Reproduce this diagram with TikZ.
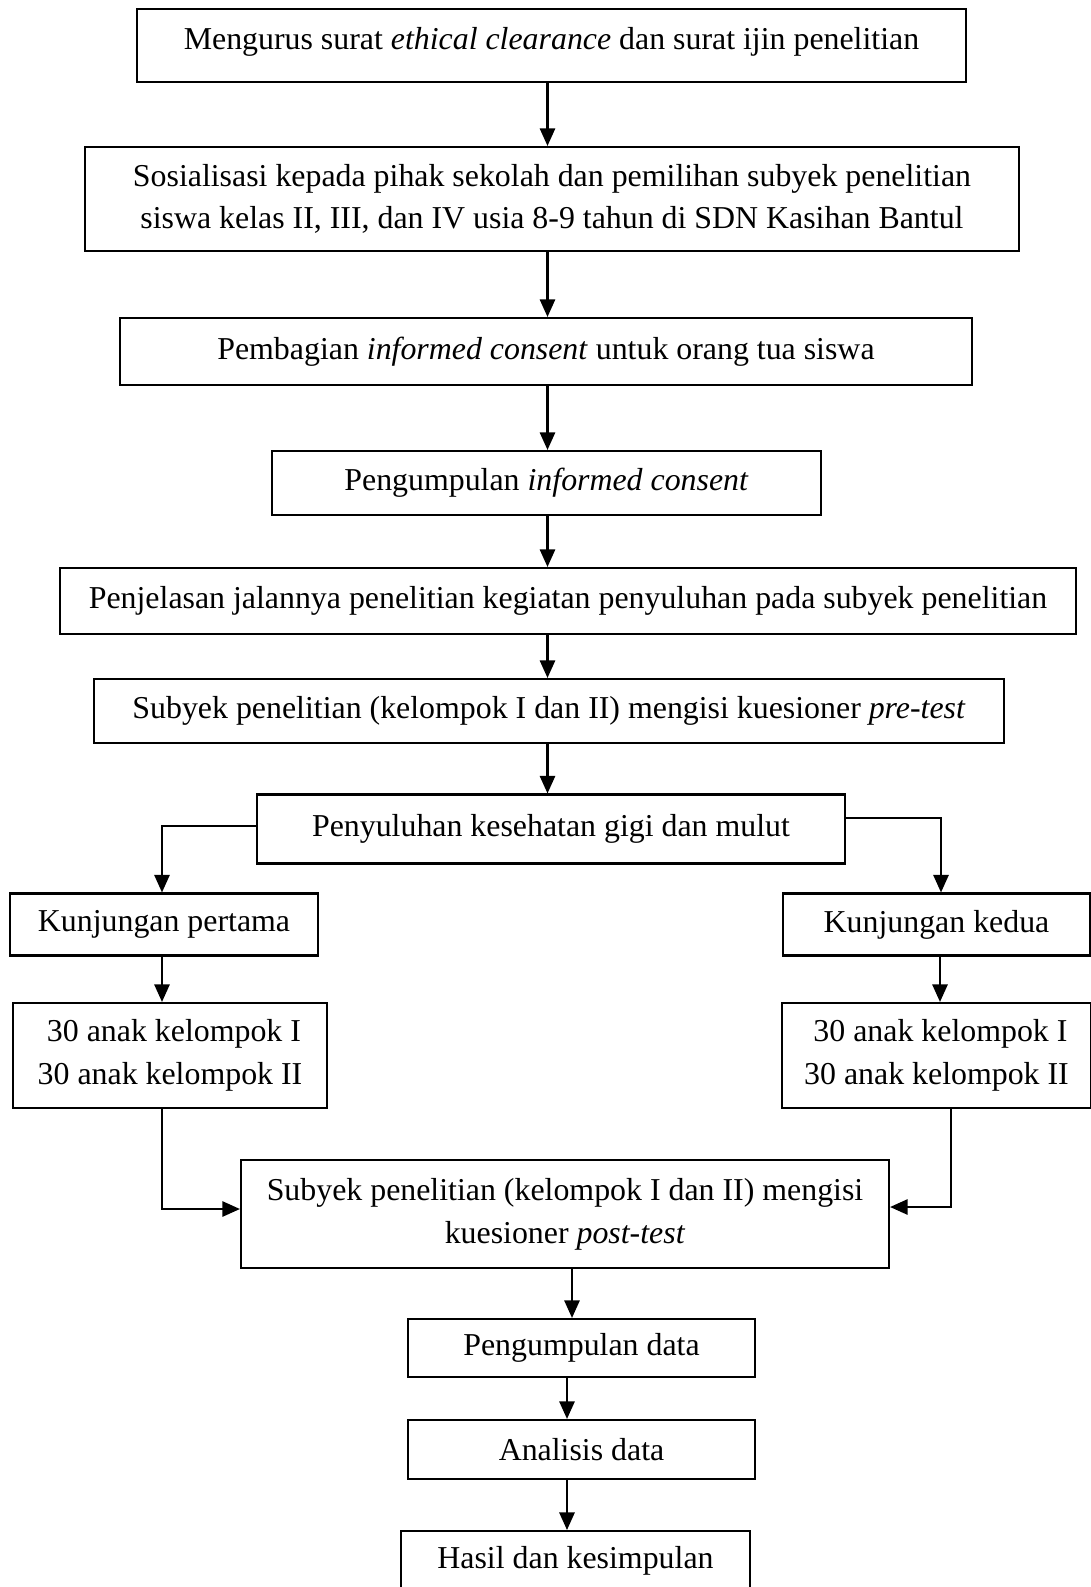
\documentclass[tikz,border=0pt]{standalone}
\usepackage{fontspec}
\setmainfont{Liberation Serif}
\usetikzlibrary{arrows.meta}

\begin{document}
\begin{tikzpicture}[x=0.015cm, y=-0.015cm,
	box/.style={rectangle, draw, line width=0.9pt, inner sep=0pt, align=center, font=\fontsize{13.6}{18.2}\selectfont},
	arr/.style={line width=0.9pt, -{Triangle[length=7.5pt,width=6.5pt]}}]
		\useasboundingbox (0,0) rectangle (1091,1587);
		\path (551.5,45.5) node[box, minimum width=12.435cm, minimum height=1.095cm, text depth=6pt] (izin) {Mengurus surat \textit{ethical clearance} dan surat ijin penelitian}
		(552,199) node[box, minimum width=14.01cm, minimum height=1.56cm] (sosial) {Sosialisasi kepada pihak sekolah dan pemilihan subyek penelitian\\siswa kelas II, III, dan IV usia 8-9 tahun di SDN Kasihan Bantul}
		(546,351.5) node[box, minimum width=12.78cm, minimum height=1.005cm] (bagi) {Pembagian \textit{informed consent} untuk orang tua siswa}
		(546.5,483) node[box, minimum width=8.235cm, minimum height=0.96cm] (kumpul) {Pengumpulan \textit{informed consent}}
		(568,601) node[box, minimum width=15.24cm, minimum height=0.99cm] (jelas) {Penjelasan jalannya penelitian kegiatan penyuluhan pada subyek penelitian}
		(549,711) node[box, minimum width=13.65cm, minimum height=0.96cm] (pre) {Subyek penelitian (kelompok I dan II) mengisi kuesioner \textit{pre-test}}
		(551,829) node[box, minimum width=8.82cm, minimum height=1.035cm] (suluh) {Penyuluhan kesehatan gigi dan mulut}
		(164,924.5) node[box, minimum width=4.62cm, minimum height=0.93cm] (kunj1) {Kunjungan pertama}
		(936.5,924.5) node[box, minimum width=4.605cm, minimum height=0.93cm] (kunj2) {Kunjungan kedua}
		(170,1055.5) node[box, minimum width=4.71cm, minimum height=1.575cm] (anak1) {\ 30 anak kelompok I\\30 anak kelompok II}
		(936.5,1055.5) node[box, minimum width=4.635cm, minimum height=1.575cm] (anak2) {\ 30 anak kelompok I\\30 anak kelompok II}
		(565,1214) node[box, minimum width=9.72cm, minimum height=1.62cm] (post) {Subyek penelitian (kelompok I dan II) mengisi\\kuesioner \textit{post-test}}
		(581.5,1348) node[box, minimum width=5.205cm, minimum height=0.87cm] (data) {Pengumpulan data}
		(581.5,1449.5) node[box, minimum width=5.205cm, minimum height=0.885cm] (analisis) {Analisis data}
		(575.5,1530) node[box, anchor=north, minimum width=5.235cm, inner ysep=7pt, text height=9pt, text depth=20pt] (hasil) {Hasil dan kesimpulan};

		\coordinate (tengah) at (547.5,0);
		\coordinate (kolom) at (572,0);
		\coordinate (kolomb) at (567,0);
		\coordinate (kiri) at (162,826);
		\coordinate (kanan) at (941,818);
		\coordinate (kanand) at (940,0);
		\coordinate (bawahkiri) at (162,1209);
		\coordinate (bawahkanan) at (951,1207);

		\draw[arr] (izin.south -| tengah) -- (sosial.north -| tengah);
		\draw[arr] (sosial.south -| tengah) -- (bagi.north -| tengah);
		\draw[arr] (bagi.south -| tengah) -- (kumpul.north -| tengah);
		\draw[arr] (kumpul.south -| tengah) -- (jelas.north -| tengah);
		\draw[arr] (jelas.south -| tengah) -- (pre.north -| tengah);
		\draw[arr] (pre.south -| tengah) -- (suluh.north -| tengah);
		\draw[arr] (suluh.west |- kiri) -- (kiri) -- (kunj1.north -| kiri);
		\draw[arr] (suluh.east |- kanan) -- (kanan) -- (kunj2.north -| kanan);
		\draw[arr] (kunj1.south -| kiri) -- (anak1.north -| kiri);
		\draw[arr] (kunj2.south -| kanand) -- (anak2.north -| kanand);
		\draw[arr] (anak1.south -| bawahkiri) -- (bawahkiri) -- (post.west |- bawahkiri);
		\draw[arr] (anak2.south -| bawahkanan) -- (bawahkanan) -- (post.east |- bawahkanan);
		\draw[arr] (post.south -| kolom) -- (data.north -| kolom);
		\draw[arr] (data.south -| kolomb) -- (analisis.north -| kolomb);
		\draw[arr] (analisis.south -| kolomb) -- (hasil.north -| kolomb);
	\end{tikzpicture}
\end{document}
